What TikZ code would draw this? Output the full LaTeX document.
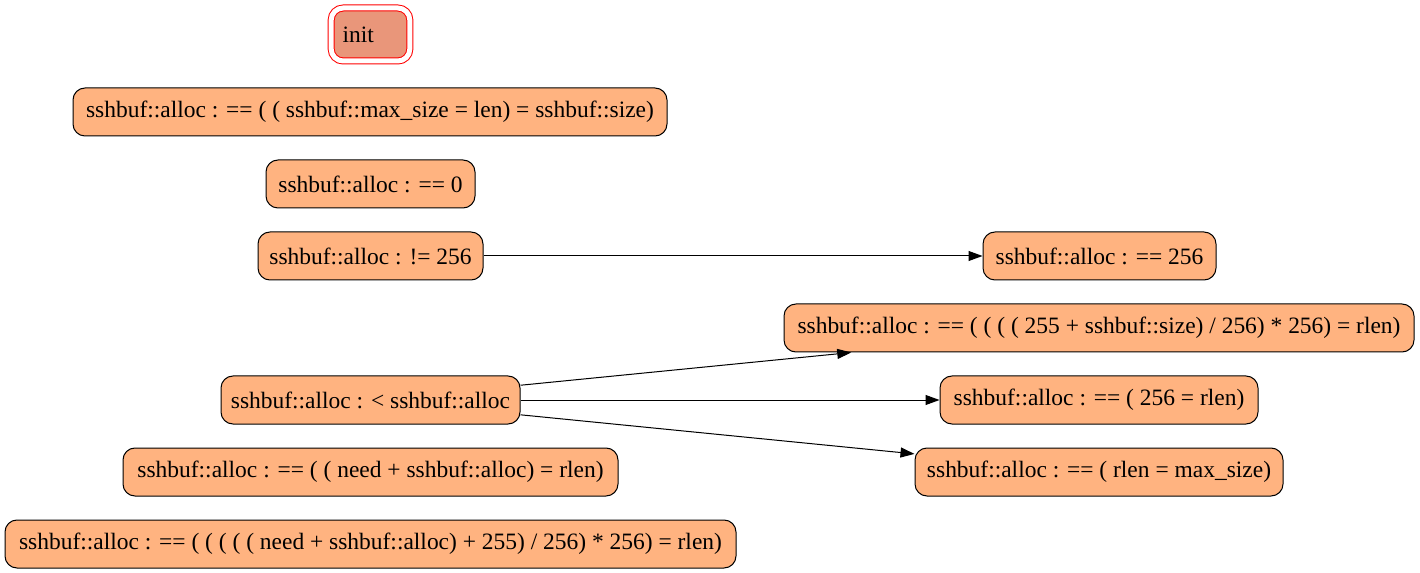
\documentclass[tikz,border=0pt]{standalone}
\usepackage{fontspec}
\setmainfont{Liberation Serif}
\usetikzlibrary{arrows.meta}
\definecolor{peach}{RGB}{255,179,128}
\definecolor{dsalmon}{RGB}{233,150,122}
\begin{document}
\begin{tikzpicture}[x=0.75pt,y=-0.75pt,
  every node/.style={font=\fontsize{17.6}{21}\selectfont},
  box/.style={draw=black, fill=peach, rounded corners=9pt, minimum height=36pt, inner sep=0pt, line width=0.75pt},
  edge/.style={draw=black, line width=0.75pt, -{Triangle[length=10.5pt,width=7.5pt]}}]
\useasboundingbox (0,0) rectangle (1420,573);
\node[draw=red, double=white, double distance=3.75pt, line width=0.75pt, fill=dsalmon, rounded corners=9pt,
  minimum width=57.75pt, minimum height=39.75pt, inner sep=0pt, text width=42pt, align=left, inner xsep=8.5pt] (init) at (370.5,34.5) {init};
\node[box, minimum width=445.5pt] (n1) at (370,112) {sshbuf::alloc : == ( ( sshbuf::max\_size = len) = sshbuf::size)};
\node[box, minimum width=156.75pt] (n2) at (370.5,184) {sshbuf::alloc : == 0};
\node[box, minimum width=168.75pt] (n3) at (370.5,256) {sshbuf::alloc : != 256};
\node[box, minimum width=174.75pt] (n4) at (1099.5,256) {sshbuf::alloc : == 256};
\node[box, minimum width=472.5pt] (n5) at (1099,328) {sshbuf::alloc : == ( ( ( ( 255 + sshbuf::size) / 256) * 256) = rlen)};
\node[box, minimum width=224.25pt] (n6) at (370.5,400) {sshbuf::alloc : < sshbuf::alloc};
\node[box, minimum width=238.5pt] (n7) at (1099,400) {sshbuf::alloc : == ( 256 = rlen)};
\node[box, minimum width=371.25pt] (n8) at (370.5,472) {sshbuf::alloc : == ( ( need + sshbuf::alloc) = rlen)};
\node[box, minimum width=276pt] (n9) at (1099,472) {sshbuf::alloc : == ( rlen = max\_size)};
\node[box, minimum width=548.25pt] (n10) at (370.5,544) {sshbuf::alloc : == ( ( ( ( ( need + sshbuf::alloc) + 255) / 256) * 256) = rlen)};
\draw[edge] (n3) -- (n4);
\draw[edge] (n6) -- (n5);
\draw[edge] (n6) -- (n7);
\draw[edge] (n6) -- (n9);
\end{tikzpicture}
\end{document}
